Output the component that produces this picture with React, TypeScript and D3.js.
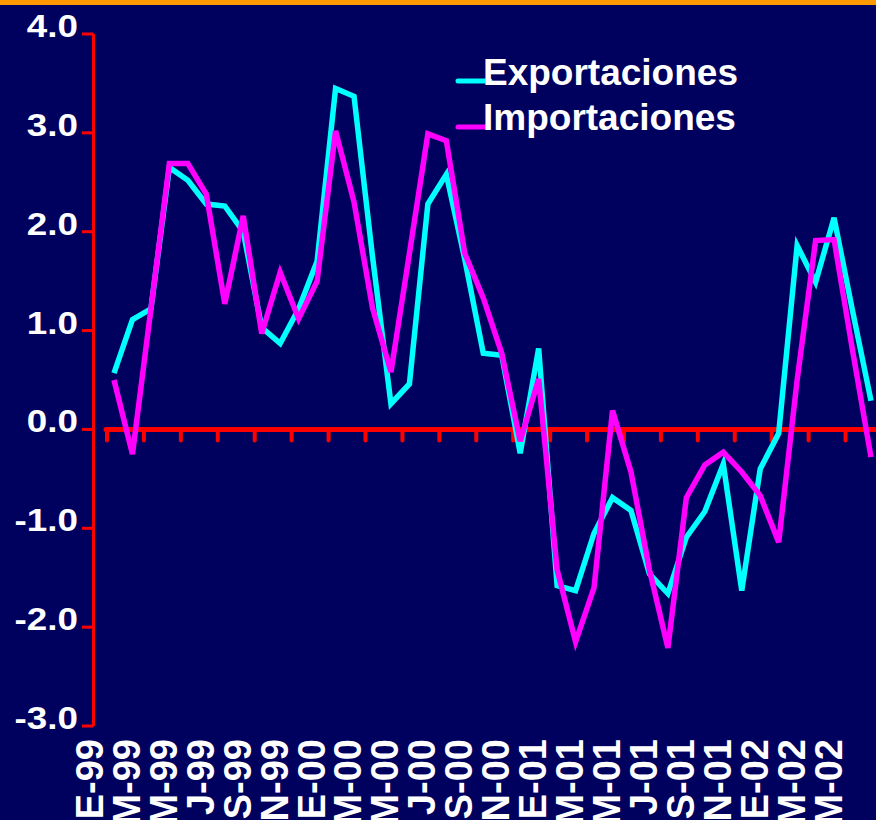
import React from "react";
import * as d3 from "d3";

const months: string[] = [
  "E-99","F-99","M-99","A-99","M-99","J-99","J-99","A-99","S-99","O-99","N-99","D-99",
  "E-00","F-00","M-00","A-00","M-00","J-00","J-00","A-00","S-00","O-00","N-00","D-00",
  "E-01","F-01","M-01","A-01","M-01","J-01","J-01","A-01","S-01","O-01","N-01","D-01",
  "E-02","F-02","M-02","A-02","M-02","J-02",
];

const exportaciones: number[] = [
  0.57, 1.11, 1.22, 2.65, 2.52, 2.28, 2.26, 2.0, 1.03, 0.87, 1.22, 1.7,
  3.45, 3.37, 1.75, 0.26, 0.46, 2.28, 2.58, 1.72, 0.77, 0.75, -0.24, 0.82,
  -1.58, -1.63, -1.05, -0.69, -0.82, -1.46, -1.66, -1.09, -0.83, -0.35, -1.63, -0.4,
  -0.04, 1.86, 1.49, 2.14, 1.2, 0.29,
];

const importaciones: number[] = [
  0.5, -0.25, 1.22, 2.69, 2.69, 2.38, 1.27, 2.16, 0.97, 1.59, 1.12, 1.5,
  3.02, 2.3, 1.23, 0.58, 1.78, 2.99, 2.92, 1.78, 1.33, 0.77, -0.12, 0.51,
  -1.42, -2.15, -1.6, 0.19, -0.43, -1.42, -2.21, -0.69, -0.36, -0.23, -0.43, -0.67,
  -1.14, 0.5, 1.91, 1.92, 0.8, -0.28,
];

const yTicks: number[] = [4, 3, 2, 1, 0, -1, -2, -3];
const yTickLabels: string[] = ["4.0", "3.0", "2.0", "1.0", "0.0", "-1.0", "-2.0", "-3.0"];

const seriesNames: string[] = ["Exportaciones", "Importaciones"];
const seriesColors: string[] = ["#00FFFF", "#FF00FF"];

const W = 876;
const H = 820;
const FONT = "'Liberation Sans', Arial, Helvetica, sans-serif";

export default function App() {
  const x = d3.scaleLinear().domain([0, months.length - 1]).range([114, 871]);
  const y = d3.scaleLinear().domain([-3, 4]).range([726, 34]);
  const line = d3
    .line<number>()
    .x((_, i) => x(i))
    .y((d) => y(d));

  const labelIdx = months.map((_, i) => i).filter((i) => i % 2 === 0);

  return (
    <svg
      width={W}
      height={H}
      style={{ position: "absolute", left: 0, top: 0, display: "block" }}
    >
      <rect x={0} y={0} width={W} height={H} fill="#00005E" />
      <rect x={0} y={0} width={W} height={5} fill="#FF9900" />

      {/* Y axis */}
      <line x1={93.5} x2={93.5} y1={y(4)} y2={y(-3)} stroke="#FF0000" strokeWidth={3} />
      {yTicks.map((t, i) => (
        <g key={"yt" + i}>
          <line x1={82} x2={93.5} y1={y(t)} y2={y(t)} stroke="#FF0000" strokeWidth={3} />
          <text
            transform={`translate(78, ${y(t) + 3}) scale(1.15, 1)`}
            textAnchor="end"
            fontFamily={FONT}
            fontWeight="bold"
            fontSize={32}
            fill="#FFFFFF"
          >
            {yTickLabels[i]}
          </text>
        </g>
      ))}

      {/* Zero line with ticks */}
      <line
        x1={x(0) - 8}
        x2={W + 5}
        y1={y(0)}
        y2={y(0)}
        stroke="#FF0000"
        strokeWidth={5}
        strokeLinecap="round"
      />
      {labelIdx.map((i) => (
        <line
          key={"xt" + i}
          x1={x(i) - 7}
          x2={x(i) - 7}
          y1={y(0)}
          y2={y(0) + 11}
          stroke="#FF0000"
          strokeWidth={4}
          strokeLinecap="round"
        />
      ))}

      {/* X labels */}
      {labelIdx.map((i) => (
        <text
          key={"xl" + i}
          transform={`translate(${x(i) - 11}, 739) rotate(-90)`}
          textAnchor="end"
          fontFamily={FONT}
          fontWeight="bold"
          fontSize={38}
          fill="#FFFFFF"
        >
          {months[i]}
        </text>
      ))}

      {/* Series */}
      <path
        d={line(exportaciones) || ""}
        fill="none"
        stroke={seriesColors[0]}
        strokeWidth={5.5}
        strokeLinejoin="miter"
      />
      <path
        d={line(importaciones) || ""}
        fill="none"
        stroke={seriesColors[1]}
        strokeWidth={5.5}
        strokeLinejoin="miter"
      />

      {/* Legend */}
      {seriesNames.map((name, i) => (
        <g key={"lg" + i}>
          <line
            x1={458}
            x2={i === 0 ? 490 : 485}
            y1={81 + i * 46}
            y2={81 + i * 46}
            stroke={seriesColors[i]}
            strokeWidth={5}
            strokeLinecap="round"
          />
          <text
            x={483}
            y={85 + i * 45}
            fontFamily={FONT}
            fontWeight="bold"
            fontSize={37}
            fill="#FFFFFF"
          >
            {name}
          </text>
        </g>
      ))}
    </svg>
  );
}
